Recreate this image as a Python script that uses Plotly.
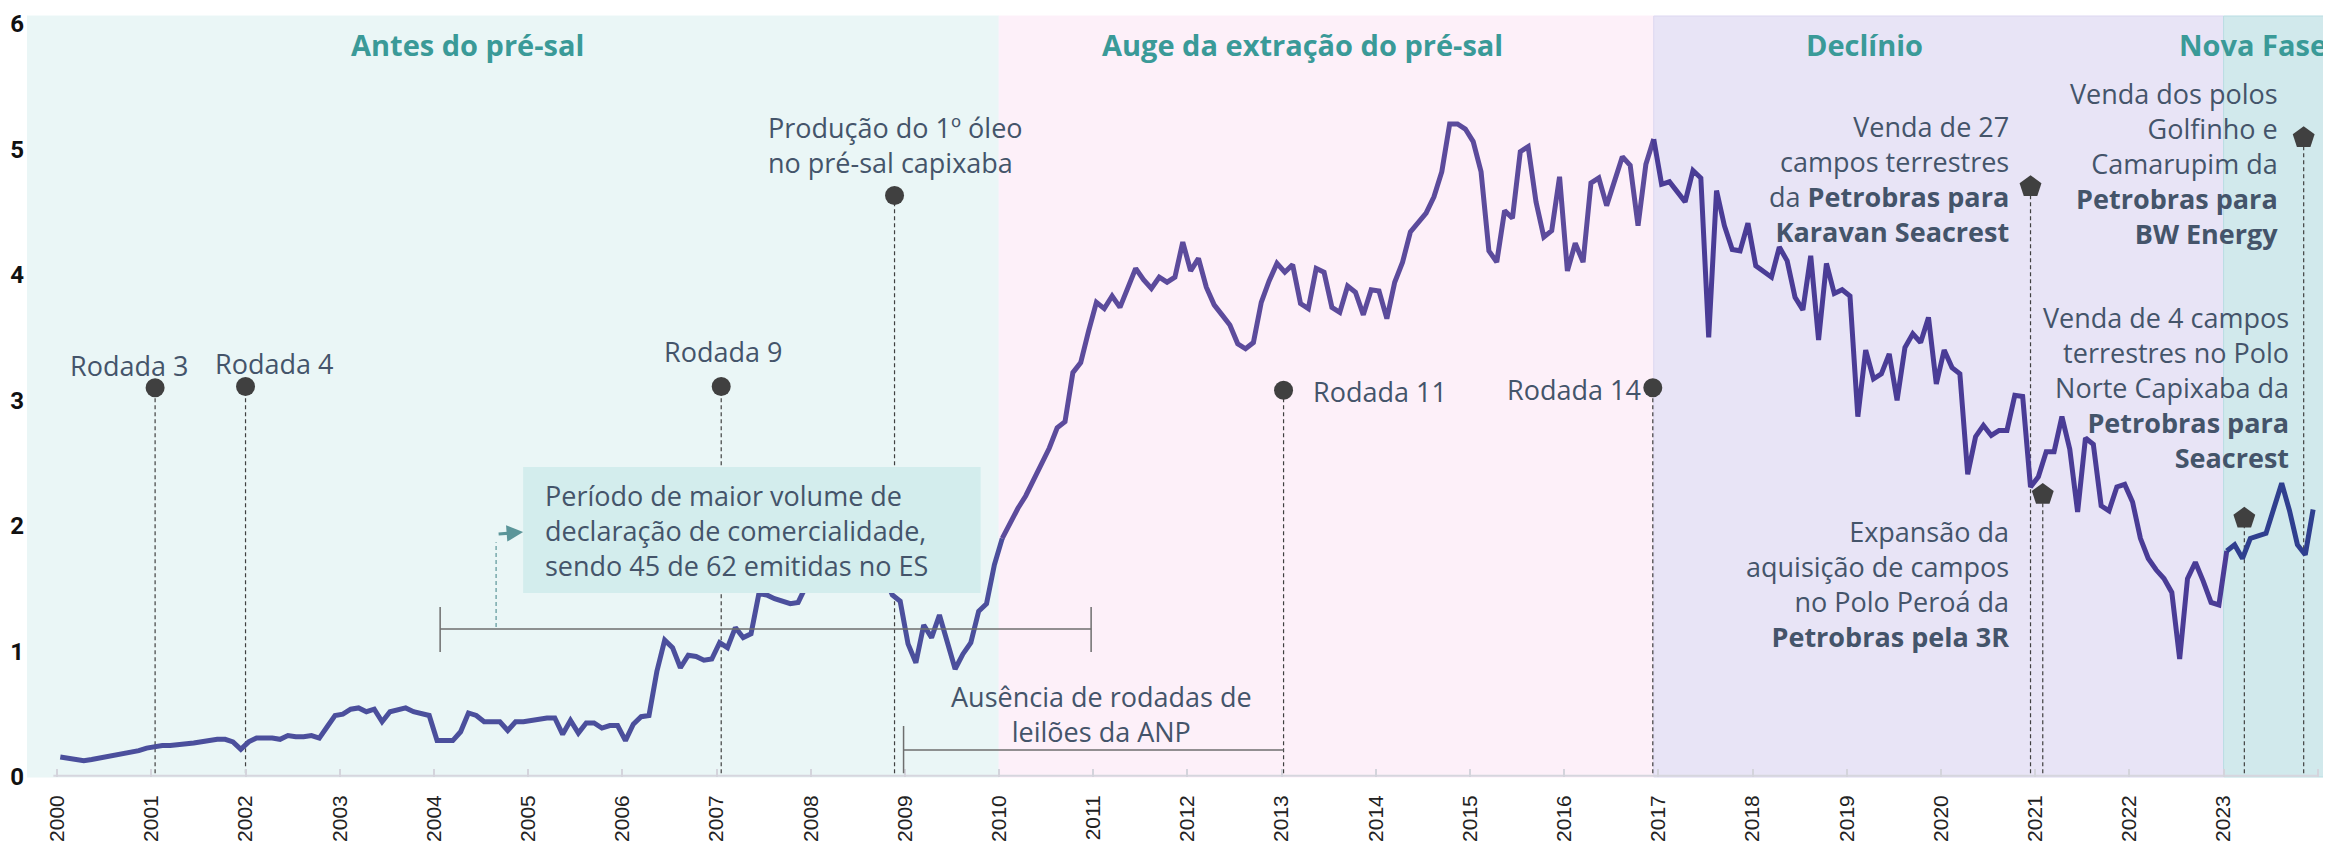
import plotly.graph_objects as go

# ---------------- data ----------------
years = list(range(2000, 2024))

# monthly oil production, Jan..Dec of each year
production = [
    0.16, 0.15, 0.14, 0.13, 0.14, 0.15, 0.17, 0.18, 0.19, 0.20, 0.21, 0.23,  # 2000
    0.24, 0.25, 0.25, 0.26, 0.27, 0.27, 0.28, 0.29, 0.30, 0.30, 0.28, 0.22,  # 2001
    0.28, 0.31, 0.31, 0.31, 0.30, 0.33, 0.32, 0.32, 0.33, 0.31, 0.40, 0.49,  # 2002
    0.50, 0.54, 0.55, 0.52, 0.54, 0.44, 0.52, 0.53, 0.55, 0.52, 0.51, 0.49,  # 2003
    0.29, 0.29, 0.29, 0.36, 0.51, 0.49, 0.44, 0.44, 0.44, 0.37, 0.44, 0.44,  # 2004
    0.45, 0.45, 0.47, 0.47, 0.34, 0.45, 0.35, 0.43, 0.43, 0.39, 0.41, 0.41,  # 2005
    0.29, 0.42, 0.48, 0.49, 0.84, 1.09, 1.03, 0.87, 0.97, 0.96, 0.93, 0.94,  # 2006
    1.07, 1.03, 1.19, 1.11, 1.14, 1.46, 1.45, 1.42, 1.40, 1.38, 1.39, 1.52,  # 2007
    1.60, 1.65, 1.70, 1.72, 1.75, 1.78, 1.75, 1.70, 1.68, 1.60, 1.45, 1.40,  # 2008
    1.06, 0.91, 1.21, 1.11, 1.29, 1.07, 0.86, 0.98, 1.07, 1.32, 1.38, 1.69,  # 2009
    1.90, 2.03, 2.14, 2.24, 2.36, 2.50, 2.62, 2.78, 2.83, 3.22, 3.30, 3.55,  # 2010
    3.78, 3.73, 3.83, 3.74, 3.90, 4.05, 3.96, 3.89, 3.98, 3.94, 3.98, 4.26,  # 2011
    4.03, 4.13, 3.90, 3.76, 3.68, 3.60, 3.45, 3.41, 3.46, 3.78, 3.95, 4.09,  # 2012
    4.02, 4.08, 3.77, 3.73, 4.05, 4.02, 3.74, 3.70, 3.91, 3.86, 3.68, 3.88,  # 2013
    3.87, 3.65, 3.94, 4.10, 4.34, 4.42, 4.49, 4.62, 4.82, 5.20, 5.20, 5.16,  # 2014
    5.06, 4.82, 4.19, 4.10, 4.51, 4.45, 4.98, 5.02, 4.58, 4.30, 4.35, 4.78,  # 2015
    4.03, 4.25, 4.10, 4.73, 4.77, 4.55, 4.74, 4.94, 4.87, 4.39, 4.88, 5.08,  # 2016
    4.72, 4.74, 4.66, 4.58, 4.83, 4.77, 3.50, 4.67, 4.39, 4.20, 4.19, 4.41,  # 2017
    4.07, 4.03, 3.98, 4.22, 4.11, 3.82, 3.72, 4.15, 3.48, 4.09, 3.85, 3.88,  # 2018
    3.83, 2.87, 3.40, 3.17, 3.21, 3.37, 3.00, 3.42, 3.53, 3.46, 3.66, 3.13,  # 2019
    3.40, 3.26, 3.21, 2.41, 2.71, 2.80, 2.72, 2.76, 2.76, 3.04, 3.03, 2.31,  # 2020
    2.39, 2.59, 2.59, 2.87, 2.61, 2.11, 2.70, 2.65, 2.16, 2.12, 2.31, 2.33,  # 2021
    2.19, 1.90, 1.74, 1.65, 1.58, 1.47, 0.94, 1.58, 1.71, 1.56, 1.39, 1.37,  # 2022
    1.80, 1.85, 1.74, 1.90, 1.92, 1.94, 2.14, 2.34, 2.12, 1.85, 1.77, 2.13,  # 2023
]

phase_names = ["Antes do pré-sal", "Auge da extração do pré-sal", "Declínio", "Nova Fase"]
phase_starts = [1999.68, 2010.0, 2016.95, 2023.0]
phase_ends = [2010.0, 2016.95, 2023.0, 2024.14]
phase_title_x = [2004.36, 2013.22, 2019.19, 2024.12]

round_labels = ["Rodada 3", "Rodada 4", "Rodada 9", "Rodada 11", "Rodada 14"]
round_x = [2001.04, 2002.0, 2007.05, 2013.02, 2016.94]
round_y = [3.10, 3.11, 3.11, 3.08, 3.10]

first_oil_x = 2008.89
first_oil_y = 4.63

sale_x = [2020.95, 2021.08, 2023.22, 2023.85]
sale_y = [4.70, 2.25, 2.06, 5.09]

# ---------------- styles ----------------
TXT = "#44546a"
TEAL = "#3a9a98"
FONT = "Open Sans"
phase_fill = ["#eaf6f6", "#fdf0f9", "#e8e4f6", "#d1e9ec"]
phase_edge = ["#eaf6f6", "#fdf0f9", "#dcd7f0", "#b9dde2"]
phase_line = ["#4b4f9c", "#5c4b9c", "#4a3c96", "#2f3f8f"]
X0, X1 = 1999.68, 2024.14
DY = 0.02  # text lift

x_months = [y + (m + 0.4) / 12 for y in years for m in range(12)]

fig = go.Figure()
shapes = []
annotations = []

# phase backgrounds
for k in range(4):
    shapes.append(dict(type="rect", xref="x", yref="paper", x0=phase_starts[k], x1=phase_ends[k],
                       y0=0, y1=1, fillcolor=phase_fill[k], line=dict(width=1, color=phase_edge[k]),
                       layer="below"))
# axis baseline
shapes.append(dict(type="line", xref="x", yref="y", x0=1999.96, x1=2024.0, y0=0.01, y1=0.01,
                   line=dict(color="#d6d6de", width=2), layer="below"))

# dashed drop lines
DASH = "4px,3px"
for xv, yv in zip(round_x + [first_oil_x] + sale_x, round_y + [first_oil_y] + sale_y):
    shapes.append(dict(type="line", xref="x", yref="y", x0=xv, x1=xv, y0=0.03, y1=yv,
                       line=dict(color="#404040", width=1.2, dash=DASH), layer="below"))

# production line, coloured by phase
for k in range(4):
    idx = [i for i, xv in enumerate(x_months) if phase_starts[k] <= xv < phase_ends[k]]
    if not idx:
        continue
    if idx[-1] + 1 < len(x_months):
        idx.append(idx[-1] + 1)
    fig.add_trace(go.Scatter(x=[x_months[i] for i in idx], y=[production[i] for i in idx],
                             mode="lines", line=dict(color=phase_line[k], width=5),
                             hoverinfo="skip", showlegend=False))

# event markers
fig.add_trace(go.Scatter(x=round_x + [first_oil_x], y=round_y + [first_oil_y], mode="markers",
                         marker=dict(symbol="circle", size=19, color="#404040"),
                         showlegend=False, hoverinfo="skip"))
fig.add_trace(go.Scatter(x=sale_x, y=sale_y, mode="markers",
                         marker=dict(symbol="pentagon", size=23, color="#404040"),
                         showlegend=False, hoverinfo="skip"))

# highlighted box (covers line)
shapes.append(dict(type="rect", xref="x", yref="y", x0=2004.947, x1=2009.804, y0=1.465, y1=2.469,
                   fillcolor="#d3eded", line=dict(width=0), layer="above"))
# brackets
BR = "#6e6e6e"
shapes += [
    dict(type="line", xref="x", yref="y", x0=2004.066, x1=2010.977, y0=1.179, y1=1.179,
         line=dict(color=BR, width=1.5), layer="above"),
    dict(type="line", xref="x", yref="y", x0=2004.066, x1=2004.066, y0=0.995, y1=1.354,
         line=dict(color=BR, width=1.5), layer="above"),
    dict(type="line", xref="x", yref="y", x0=2010.977, x1=2010.977, y0=0.995, y1=1.354,
         line=dict(color=BR, width=1.5), layer="above"),
    dict(type="line", xref="x", yref="y", x0=2008.986, x1=2013.02, y0=0.215, y1=0.215,
         line=dict(color=BR, width=1.5), layer="above"),
    dict(type="line", xref="x", yref="y", x0=2008.986, x1=2008.986, y0=0.03, y1=0.406,
         line=dict(color=BR, width=1.5), layer="above"),
    # dashed connector to the box
    dict(type="line", xref="x", yref="y", x0=2004.66, x1=2004.66, y0=1.195, y1=1.87,
         line=dict(color="#5b9599", width=1.2, dash=DASH), layer="above"),
]

def note(text, x, y, xanchor="center", align="center", size=27, color=TXT):
    annotations.append(dict(text=text, x=x, y=y + DY, xref="x", yref="y", xanchor=xanchor,
                            yanchor="middle", align=align, showarrow=False,
                            font=dict(family=FONT, size=size, color=color)))

# phase titles
for k in range(4):
    annotations.append(dict(text="<b>" + phase_names[k] + "</b>", x=phase_title_x[k], y=5.83,
                            xref="x", yref="y", xanchor="right" if k == 3 else "center",
                            yanchor="middle", showarrow=False,
                            font=dict(family=FONT, size=29, color=TEAL)))

note(round_labels[0], 2000.76, 3.257)
note(round_labels[1], 2002.30, 3.273)
note(round_labels[2], 2007.07, 3.368)
note(round_labels[3], 2013.31, 3.05, xanchor="left", align="left")
note(round_labels[4], 2016.84, 3.066, xanchor="right", align="right")
note("Produção do 1º óleo<br>no pré-sal capixaba", 2007.53, 5.013, xanchor="left", align="left")
note("Período de maior volume de<br>declaração de comercialidade,<br>sendo 45 de 62 emitidas no ES",
     2005.16, 1.945, xanchor="left", align="left")
note("Ausência de rodadas de<br>leilões da ANP", 2011.09, 0.482)
note("Venda de 27<br>campos terrestres<br>da <b>Petrobras para</b><br><b>Karavan Seacrest</b>",
     2020.74, 4.742, xanchor="right", align="right")
note("Venda dos polos<br>Golfinho e<br>Camarupim da<br><b>Petrobras para</b><br><b>BW Energy</b>",
     2023.60, 4.869, xanchor="right", align="right")
note("Venda de 4 campos<br>terrestres no Polo<br>Norte Capixaba da<br><b>Petrobras para</b><br><b>Seacrest</b>",
     2023.72, 3.082, xanchor="right", align="right")
note("Expansão da<br>aquisição de campos<br>no Polo Peroá da<br><b>Petrobras pela 3R</b>",
     2020.74, 1.515, xanchor="right", align="right")

# arrow into the box
annotations.append(dict(text="", x=2004.947, y=1.95, xref="x", yref="y",
                        ax=-26, ay=2, axref="pixel", ayref="pixel", showarrow=True,
                        arrowhead=2, arrowsize=1.1, arrowwidth=3, arrowcolor="#5b9599"))

# page body has an 8px default margin: offset the figure margins to compensate
fig.update_layout(
    width=2331, height=846,
    margin=dict(l=19, r=8, t=8, b=77),
    paper_bgcolor="white", plot_bgcolor="white",
    shapes=shapes, annotations=annotations, showlegend=False,
    xaxis=dict(range=[X0, X1], tickvals=years + [2024], ticktext=[str(y) for y in years] + [""],
               tickangle=-90, ticks="inside", ticklen=8, tickwidth=2, tickcolor="#d4d4dc",
               showgrid=False, zeroline=False, showline=False, ticklabelstandoff=13,
               automargin=False,
               tickfont=dict(family="Liberation Sans", size=21, color="#222222")),
    yaxis=dict(range=[0, 6.06], tickvals=[0, 1, 2, 3, 4, 5, 6], showgrid=False, zeroline=False,
               showline=False, ticks="", automargin=False, ticklabelstandoff=2,
               tickfont=dict(family="Roboto", size=24, color="#111111", weight=700)),
)

fig.write_html("out.html")
